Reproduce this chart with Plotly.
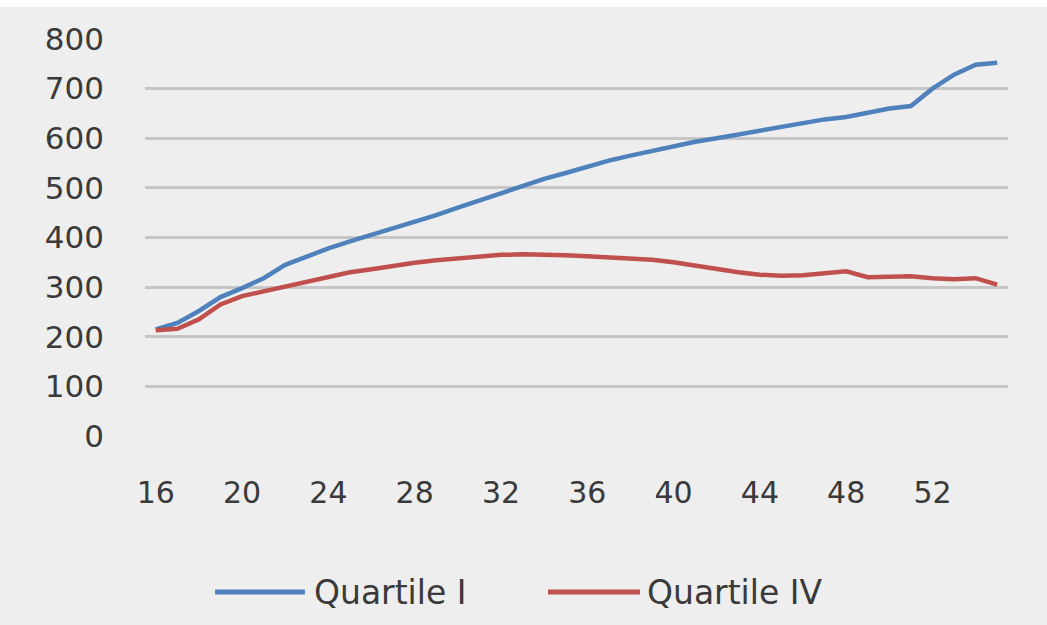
import plotly.graph_objects as go

# Age in years
ages = list(range(16, 56))

# Mean value by age for the top and bottom quartiles
quartile_i = [215, 228, 252, 280, 298, 318, 345, 362, 378, 392,
              405, 418, 430, 445, 460, 475, 490, 505, 518, 530,
              543, 555, 565, 575, 585, 593, 600, 608, 615, 623,
              630, 638, 643, 652, 660, 665, 700, 728, 748, 752]
quartile_iv = [213, 216, 235, 265, 282, 292, 302, 312, 320, 330,
               336, 343, 349, 354, 358, 362, 365, 366, 366, 364,
               362, 360, 358, 355, 350, 343, 338, 330, 325, 323,
               324, 328, 332, 320, 322, 322, 318, 316, 318, 305]

x_ticks = list(range(16, 56, 4))
y_ticks = list(range(0, 801, 100))

series_names = ["Quartile I", "Quartile IV"]
series_colors = ["#4f81bd", "#c0504d"]

fig = go.Figure()
for name, vals, color in zip(series_names, [quartile_i, quartile_iv], series_colors):
    fig.add_trace(go.Scatter(
        x=ages, y=vals, mode="lines", name=name,
        line=dict(color=color, width=4.5),
        showlegend=False,
    ))

W, H = 1047, 625
ml, mr, mt, mb = 145, 39, 39, 189
pw, ph = W - ml - mr, H - mt - mb

# White strip along the top edge of the figure
shapes = [dict(type="rect", xref="paper", yref="paper",
               x0=-ml / pw, x1=1 + mr / pw,
               y0=1 + (mt - 7) / ph, y1=1 + mt / ph + 0.01,
               fillcolor="white", line=dict(width=0), layer="above")]
annotations = []

# Legend keys drawn below the plot area
legend_items = [
    (series_names[0], series_colors[0], 215, 305, 312),
    (series_names[1], series_colors[1], 548, 640, 645),
]
ly = 592
for name, color, lx0, lx1, tx in legend_items:
    shapes.append(dict(type="line", xref="paper", yref="paper",
                       x0=(lx0 - ml) / pw, x1=(lx1 - ml) / pw,
                       y0=(H - mb - ly) / ph, y1=(H - mb - ly) / ph,
                       line=dict(color=color, width=5)))
    annotations.append(dict(text=name, xref="paper", yref="paper",
                            x=(tx - ml) / pw, y=(H - mb - ly) / ph,
                            xanchor="left", yanchor="middle", showarrow=False,
                            font=dict(family="DejaVu Sans", size=33, color="#3a3a3a")))

fig.update_layout(
    width=W, height=H,
    margin=dict(l=ml, r=mr, t=mt, b=mb),
    paper_bgcolor="#eeeeee",
    plot_bgcolor="#eeeeee",
    shapes=shapes,
    annotations=annotations,
    xaxis=dict(
        range=[15.5, 55.5], tickvals=x_ticks, ticktext=[str(t) for t in x_ticks],
        showgrid=False, zeroline=False, showline=False, ticks="",
        tickfont=dict(family="DejaVu Sans", size=30, color="#3a3a3a"),
        ticklabelstandoff=36,
    ),
    yaxis=dict(
        range=[0, 800], tickvals=y_ticks, ticktext=[str(t) for t in y_ticks],
        showgrid=True, gridcolor="#c6c6c6", gridwidth=2.5,
        zeroline=False, showline=False, ticks="",
        tickfont=dict(family="DejaVu Sans", size=31, color="#3a3a3a"),
        ticklabelstandoff=40,
    ),
)

fig.write_html("out.html")
